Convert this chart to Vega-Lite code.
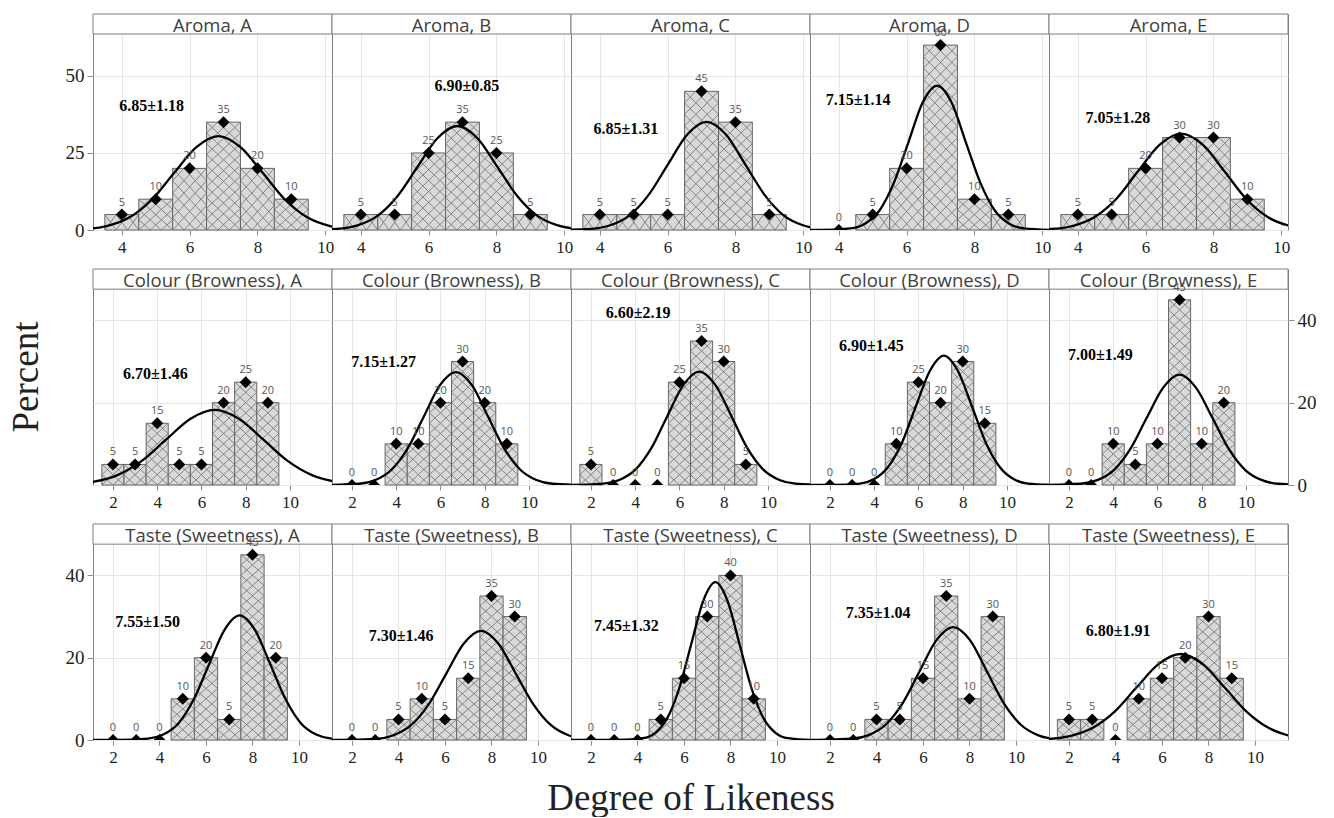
{
"$schema": "https://vega.github.io/schema/vega-lite/v6.json",
"background": "white",
"padding": {"left": 8, "top": 13, "right": 5, "bottom": 0},
"datasets": {"d": [
{"r":1,"s":"A","k":"h","t":"Aroma, A"},{"r":1,"s":"B","k":"h","t":"Aroma, B"},{"r":1,"s":"C","k":"h","t":"Aroma, C"},{"r":1,"s":"D","k":"h","t":"Aroma, D"},{"r":1,"s":"E","k":"h","t":"Aroma, E"},
{"r":2,"s":"A","k":"h","t":"Colour (Browness), A"},{"r":2,"s":"B","k":"h","t":"Colour (Browness), B"},{"r":2,"s":"C","k":"h","t":"Colour (Browness), C"},{"r":2,"s":"D","k":"h","t":"Colour (Browness), D"},{"r":2,"s":"E","k":"h","t":"Colour (Browness), E"},
{"r":3,"s":"A","k":"h","t":"Taste (Sweetness), A"},{"r":3,"s":"B","k":"h","t":"Taste (Sweetness), B"},{"r":3,"s":"C","k":"h","t":"Taste (Sweetness), C"},{"r":3,"s":"D","k":"h","t":"Taste (Sweetness), D"},{"r":3,"s":"E","k":"h","t":"Taste (Sweetness), E"},
{"r":1,"s":"A","k":"a","x":4.88,"y":40.2,"t":"6.85±1.18"},{"r":1,"s":"B","k":"a","x":7.13,"y":46.6,"t":"6.90±0.85"},{"r":1,"s":"C","k":"a","x":4.77,"y":32.9,"t":"6.85±1.31"},{"r":1,"s":"D","k":"a","x":4.57,"y":42.2,"t":"7.15±1.14"},{"r":1,"s":"E","k":"a","x":5.18,"y":36.2,"t":"7.05±1.28"},
{"r":2,"s":"A","k":"a","x":3.92,"y":26.9,"t":"6.70±1.46"},{"r":2,"s":"B","k":"a","x":3.43,"y":29.8,"t":"7.15±1.27"},{"r":2,"s":"C","k":"a","x":4.13,"y":41.9,"t":"6.60±2.19"},{"r":2,"s":"D","k":"a","x":3.87,"y":33.8,"t":"6.90±1.45"},{"r":2,"s":"E","k":"a","x":3.42,"y":31.6,"t":"7.00±1.49"},
{"r":3,"s":"A","k":"a","x":3.49,"y":28.7,"t":"7.55±1.50"},{"r":3,"s":"B","k":"a","x":4.11,"y":25.2,"t":"7.30±1.46"},{"r":3,"s":"C","k":"a","x":3.52,"y":27.8,"t":"7.45±1.32"},{"r":3,"s":"D","k":"a","x":4.07,"y":30.8,"t":"7.35±1.04"},{"r":3,"s":"E","k":"a","x":4.11,"y":26.6,"t":"6.80±1.91"},
{"r":1,"s":"A","k":"b","x":4,"y":5},{"r":1,"s":"A","k":"b","x":5,"y":10},{"r":1,"s":"A","k":"b","x":6,"y":20},{"r":1,"s":"A","k":"b","x":7,"y":35},{"r":1,"s":"A","k":"b","x":8,"y":20},{"r":1,"s":"A","k":"b","x":9,"y":10},
{"r":1,"s":"B","k":"b","x":4,"y":5},{"r":1,"s":"B","k":"b","x":5,"y":5},{"r":1,"s":"B","k":"b","x":6,"y":25},{"r":1,"s":"B","k":"b","x":7,"y":35},{"r":1,"s":"B","k":"b","x":8,"y":25},{"r":1,"s":"B","k":"b","x":9,"y":5},
{"r":1,"s":"C","k":"b","x":4,"y":5},{"r":1,"s":"C","k":"b","x":5,"y":5},{"r":1,"s":"C","k":"b","x":6,"y":5},{"r":1,"s":"C","k":"b","x":7,"y":45},{"r":1,"s":"C","k":"b","x":8,"y":35},{"r":1,"s":"C","k":"b","x":9,"y":5},
{"r":1,"s":"D","k":"b","x":4,"y":0},{"r":1,"s":"D","k":"b","x":5,"y":5},{"r":1,"s":"D","k":"b","x":6,"y":20},{"r":1,"s":"D","k":"b","x":7,"y":60},{"r":1,"s":"D","k":"b","x":8,"y":10},{"r":1,"s":"D","k":"b","x":9,"y":5},
{"r":1,"s":"E","k":"b","x":4,"y":5},{"r":1,"s":"E","k":"b","x":5,"y":5},{"r":1,"s":"E","k":"b","x":6,"y":20},{"r":1,"s":"E","k":"b","x":7,"y":30},{"r":1,"s":"E","k":"b","x":8,"y":30},{"r":1,"s":"E","k":"b","x":9,"y":10},
{"r":2,"s":"A","k":"b","x":2,"y":5},{"r":2,"s":"A","k":"b","x":3,"y":5},{"r":2,"s":"A","k":"b","x":4,"y":15},{"r":2,"s":"A","k":"b","x":5,"y":5},{"r":2,"s":"A","k":"b","x":6,"y":5},{"r":2,"s":"A","k":"b","x":7,"y":20},{"r":2,"s":"A","k":"b","x":8,"y":25},{"r":2,"s":"A","k":"b","x":9,"y":20},
{"r":2,"s":"B","k":"b","x":2,"y":0},{"r":2,"s":"B","k":"b","x":3,"y":0},{"r":2,"s":"B","k":"b","x":4,"y":10},{"r":2,"s":"B","k":"b","x":5,"y":10},{"r":2,"s":"B","k":"b","x":6,"y":20},{"r":2,"s":"B","k":"b","x":7,"y":30},{"r":2,"s":"B","k":"b","x":8,"y":20},{"r":2,"s":"B","k":"b","x":9,"y":10},
{"r":2,"s":"C","k":"b","x":2,"y":5},{"r":2,"s":"C","k":"b","x":3,"y":0},{"r":2,"s":"C","k":"b","x":4,"y":0},{"r":2,"s":"C","k":"b","x":5,"y":0},{"r":2,"s":"C","k":"b","x":6,"y":25},{"r":2,"s":"C","k":"b","x":7,"y":35},{"r":2,"s":"C","k":"b","x":8,"y":30},{"r":2,"s":"C","k":"b","x":9,"y":5},
{"r":2,"s":"D","k":"b","x":2,"y":0},{"r":2,"s":"D","k":"b","x":3,"y":0},{"r":2,"s":"D","k":"b","x":4,"y":0},{"r":2,"s":"D","k":"b","x":5,"y":10},{"r":2,"s":"D","k":"b","x":6,"y":25},{"r":2,"s":"D","k":"b","x":7,"y":20},{"r":2,"s":"D","k":"b","x":8,"y":30},{"r":2,"s":"D","k":"b","x":9,"y":15},
{"r":2,"s":"E","k":"b","x":2,"y":0},{"r":2,"s":"E","k":"b","x":3,"y":0},{"r":2,"s":"E","k":"b","x":4,"y":10},{"r":2,"s":"E","k":"b","x":5,"y":5},{"r":2,"s":"E","k":"b","x":6,"y":10},{"r":2,"s":"E","k":"b","x":7,"y":45},{"r":2,"s":"E","k":"b","x":8,"y":10},{"r":2,"s":"E","k":"b","x":9,"y":20},
{"r":3,"s":"A","k":"b","x":2,"y":0},{"r":3,"s":"A","k":"b","x":3,"y":0},{"r":3,"s":"A","k":"b","x":4,"y":0},{"r":3,"s":"A","k":"b","x":5,"y":10},{"r":3,"s":"A","k":"b","x":6,"y":20},{"r":3,"s":"A","k":"b","x":7,"y":5},{"r":3,"s":"A","k":"b","x":8,"y":45},{"r":3,"s":"A","k":"b","x":9,"y":20},
{"r":3,"s":"B","k":"b","x":2,"y":0},{"r":3,"s":"B","k":"b","x":3,"y":0},{"r":3,"s":"B","k":"b","x":4,"y":5},{"r":3,"s":"B","k":"b","x":5,"y":10},{"r":3,"s":"B","k":"b","x":6,"y":5},{"r":3,"s":"B","k":"b","x":7,"y":15},{"r":3,"s":"B","k":"b","x":8,"y":35},{"r":3,"s":"B","k":"b","x":9,"y":30},
{"r":3,"s":"C","k":"b","x":2,"y":0},{"r":3,"s":"C","k":"b","x":3,"y":0},{"r":3,"s":"C","k":"b","x":4,"y":0},{"r":3,"s":"C","k":"b","x":5,"y":5},{"r":3,"s":"C","k":"b","x":6,"y":15},{"r":3,"s":"C","k":"b","x":7,"y":30},{"r":3,"s":"C","k":"b","x":8,"y":40},{"r":3,"s":"C","k":"b","x":9,"y":10},
{"r":3,"s":"D","k":"b","x":2,"y":0},{"r":3,"s":"D","k":"b","x":3,"y":0},{"r":3,"s":"D","k":"b","x":4,"y":5},{"r":3,"s":"D","k":"b","x":5,"y":5},{"r":3,"s":"D","k":"b","x":6,"y":15},{"r":3,"s":"D","k":"b","x":7,"y":35},{"r":3,"s":"D","k":"b","x":8,"y":10},{"r":3,"s":"D","k":"b","x":9,"y":30},
{"r":3,"s":"E","k":"b","x":2,"y":5},{"r":3,"s":"E","k":"b","x":3,"y":5},{"r":3,"s":"E","k":"b","x":4,"y":0},{"r":3,"s":"E","k":"b","x":5,"y":10},{"r":3,"s":"E","k":"b","x":6,"y":15},{"r":3,"s":"E","k":"b","x":7,"y":20},{"r":3,"s":"E","k":"b","x":8,"y":30},{"r":3,"s":"E","k":"b","x":9,"y":15},
{"r":1,"s":"A","k":"c","x":1.61,"y":0.01},{"r":1,"s":"A","k":"c","x":2.92,"y":0.34},{"r":1,"s":"A","k":"c","x":3.58,"y":1.34},{"r":1,"s":"A","k":"c","x":4.23,"y":4.12},{"r":1,"s":"A","k":"c","x":4.89,"y":9.9},{"r":1,"s":"A","k":"c","x":5.54,"y":18.49},{"r":1,"s":"A","k":"c","x":6.2,"y":26.9},{"r":1,"s":"A","k":"c","x":6.85,"y":30.48},{"r":1,"s":"A","k":"c","x":7.5,"y":26.9},{"r":1,"s":"A","k":"c","x":8.16,"y":18.49},{"r":1,"s":"A","k":"c","x":8.81,"y":9.9},{"r":1,"s":"A","k":"c","x":9.47,"y":4.12},{"r":1,"s":"A","k":"c","x":10.12,"y":1.34},{"r":1,"s":"A","k":"c","x":10.78,"y":0.34},{"r":1,"s":"A","k":"c","x":12.09,"y":0.01},
{"r":1,"s":"B","k":"c","x":2.12,"y":0.01},{"r":1,"s":"B","k":"c","x":3.3,"y":0.37},{"r":1,"s":"B","k":"c","x":3.9,"y":1.48},{"r":1,"s":"B","k":"c","x":4.49,"y":4.57},{"r":1,"s":"B","k":"c","x":5.08,"y":10.96},{"r":1,"s":"B","k":"c","x":5.67,"y":20.47},{"r":1,"s":"B","k":"c","x":6.26,"y":29.78},{"r":1,"s":"B","k":"c","x":6.85,"y":33.75},{"r":1,"s":"B","k":"c","x":7.44,"y":29.78},{"r":1,"s":"B","k":"c","x":8.03,"y":20.47},{"r":1,"s":"B","k":"c","x":8.62,"y":10.96},{"r":1,"s":"B","k":"c","x":9.21,"y":4.57},{"r":1,"s":"B","k":"c","x":9.81,"y":1.48},{"r":1,"s":"B","k":"c","x":10.4,"y":0.37},{"r":1,"s":"B","k":"c","x":11.58,"y":0.01},
{"r":1,"s":"C","k":"c","x":2.6,"y":0.01},{"r":1,"s":"C","k":"c","x":3.74,"y":0.39},{"r":1,"s":"C","k":"c","x":4.31,"y":1.54},{"r":1,"s":"C","k":"c","x":4.88,"y":4.75},{"r":1,"s":"C","k":"c","x":5.44,"y":11.4},{"r":1,"s":"C","k":"c","x":6.01,"y":21.29},{"r":1,"s":"C","k":"c","x":6.58,"y":30.98},{"r":1,"s":"C","k":"c","x":7.15,"y":35.1},{"r":1,"s":"C","k":"c","x":7.72,"y":30.98},{"r":1,"s":"C","k":"c","x":8.29,"y":21.29},{"r":1,"s":"C","k":"c","x":8.86,"y":11.4},{"r":1,"s":"C","k":"c","x":9.42,"y":4.75},{"r":1,"s":"C","k":"c","x":9.99,"y":1.54},{"r":1,"s":"C","k":"c","x":10.56,"y":0.39},{"r":1,"s":"C","k":"c","x":11.7,"y":0.01},
{"r":1,"s":"D","k":"c","x":0,"y":0},{"r":1,"s":"D","k":"c","x":3.49,"y":0.02},{"r":1,"s":"D","k":"c","x":4.34,"y":0.52},{"r":1,"s":"D","k":"c","x":4.77,"y":2.05},{"r":1,"s":"D","k":"c","x":5.2,"y":6.33},{"r":1,"s":"D","k":"c","x":5.62,"y":15.2},{"r":1,"s":"D","k":"c","x":6.05,"y":28.39},{"r":1,"s":"D","k":"c","x":6.47,"y":41.31},{"r":1,"s":"D","k":"c","x":6.9,"y":46.81},{"r":1,"s":"D","k":"c","x":7.33,"y":41.31},{"r":1,"s":"D","k":"c","x":7.75,"y":28.39},{"r":1,"s":"D","k":"c","x":8.18,"y":15.2},{"r":1,"s":"D","k":"c","x":8.6,"y":6.33},{"r":1,"s":"D","k":"c","x":9.03,"y":2.05},{"r":1,"s":"D","k":"c","x":9.46,"y":0.52},{"r":1,"s":"D","k":"c","x":10.31,"y":0.02},
{"r":1,"s":"E","k":"c","x":1.95,"y":0.01},{"r":1,"s":"E","k":"c","x":3.22,"y":0.35},{"r":1,"s":"E","k":"c","x":3.86,"y":1.37},{"r":1,"s":"E","k":"c","x":4.5,"y":4.23},{"r":1,"s":"E","k":"c","x":5.14,"y":10.15},{"r":1,"s":"E","k":"c","x":5.77,"y":18.96},{"r":1,"s":"E","k":"c","x":6.41,"y":27.59},{"r":1,"s":"E","k":"c","x":7.05,"y":31.26},{"r":1,"s":"E","k":"c","x":7.69,"y":27.59},{"r":1,"s":"E","k":"c","x":8.33,"y":18.96},{"r":1,"s":"E","k":"c","x":8.96,"y":10.15},{"r":1,"s":"E","k":"c","x":9.6,"y":4.23},{"r":1,"s":"E","k":"c","x":10.24,"y":1.37},{"r":1,"s":"E","k":"c","x":10.88,"y":0.35},{"r":1,"s":"E","k":"c","x":12.15,"y":0.01},
{"r":2,"s":"A","k":"c","x":-2.14,"y":0.01},{"r":2,"s":"A","k":"c","x":0.04,"y":0.2},{"r":2,"s":"A","k":"c","x":1.14,"y":0.8},{"r":2,"s":"A","k":"c","x":2.23,"y":2.47},{"r":2,"s":"A","k":"c","x":3.32,"y":5.93},{"r":2,"s":"A","k":"c","x":4.41,"y":11.07},{"r":2,"s":"A","k":"c","x":5.51,"y":16.11},{"r":2,"s":"A","k":"c","x":6.6,"y":18.25},{"r":2,"s":"A","k":"c","x":7.69,"y":16.11},{"r":2,"s":"A","k":"c","x":8.79,"y":11.07},{"r":2,"s":"A","k":"c","x":9.88,"y":5.93},{"r":2,"s":"A","k":"c","x":10.97,"y":2.47},{"r":2,"s":"A","k":"c","x":12.07,"y":0.8},{"r":2,"s":"A","k":"c","x":13.16,"y":0.2},{"r":2,"s":"A","k":"c","x":15.34,"y":0.01},
{"r":2,"s":"B","k":"c","x":0.88,"y":0.01},{"r":2,"s":"B","k":"c","x":2.34,"y":0.3},{"r":2,"s":"B","k":"c","x":3.06,"y":1.2},{"r":2,"s":"B","k":"c","x":3.79,"y":3.71},{"r":2,"s":"B","k":"c","x":4.52,"y":8.91},{"r":2,"s":"B","k":"c","x":5.25,"y":16.64},{"r":2,"s":"B","k":"c","x":5.97,"y":24.21},{"r":2,"s":"B","k":"c","x":6.7,"y":27.43},{"r":2,"s":"B","k":"c","x":7.43,"y":24.21},{"r":2,"s":"B","k":"c","x":8.15,"y":16.64},{"r":2,"s":"B","k":"c","x":8.88,"y":8.91},{"r":2,"s":"B","k":"c","x":9.61,"y":3.71},{"r":2,"s":"B","k":"c","x":10.34,"y":1.2},{"r":2,"s":"B","k":"c","x":11.06,"y":0.3},{"r":2,"s":"B","k":"c","x":12.52,"y":0.01},
{"r":2,"s":"C","k":"c","x":0,"y":0},{"r":2,"s":"C","k":"c","x":1.11,"y":0.01},{"r":2,"s":"C","k":"c","x":2.56,"y":0.31},{"r":2,"s":"C","k":"c","x":3.28,"y":1.21},{"r":2,"s":"C","k":"c","x":4.01,"y":3.73},{"r":2,"s":"C","k":"c","x":4.73,"y":8.95},{"r":2,"s":"C","k":"c","x":5.45,"y":16.72},{"r":2,"s":"C","k":"c","x":6.18,"y":24.32},{"r":2,"s":"C","k":"c","x":6.9,"y":27.56},{"r":2,"s":"C","k":"c","x":7.62,"y":24.32},{"r":2,"s":"C","k":"c","x":8.35,"y":16.72},{"r":2,"s":"C","k":"c","x":9.07,"y":8.95},{"r":2,"s":"C","k":"c","x":9.79,"y":3.73},{"r":2,"s":"C","k":"c","x":10.52,"y":1.21},{"r":2,"s":"C","k":"c","x":11.24,"y":0.31},{"r":2,"s":"C","k":"c","x":12.69,"y":0.01},
{"r":2,"s":"D","k":"c","x":0,"y":0},{"r":2,"s":"D","k":"c","x":2.08,"y":0.01},{"r":2,"s":"D","k":"c","x":3.35,"y":0.35},{"r":2,"s":"D","k":"c","x":3.98,"y":1.38},{"r":2,"s":"D","k":"c","x":4.61,"y":4.26},{"r":2,"s":"D","k":"c","x":5.25,"y":10.22},{"r":2,"s":"D","k":"c","x":5.88,"y":19.08},{"r":2,"s":"D","k":"c","x":6.52,"y":27.76},{"r":2,"s":"D","k":"c","x":7.15,"y":31.46},{"r":2,"s":"D","k":"c","x":7.78,"y":27.76},{"r":2,"s":"D","k":"c","x":8.42,"y":19.08},{"r":2,"s":"D","k":"c","x":9.05,"y":10.22},{"r":2,"s":"D","k":"c","x":9.69,"y":4.26},{"r":2,"s":"D","k":"c","x":10.32,"y":1.38},{"r":2,"s":"D","k":"c","x":10.95,"y":0.35},{"r":2,"s":"D","k":"c","x":12.22,"y":0.01},
{"r":2,"s":"E","k":"c","x":1.05,"y":0.01},{"r":2,"s":"E","k":"c","x":2.54,"y":0.3},{"r":2,"s":"E","k":"c","x":3.28,"y":1.18},{"r":2,"s":"E","k":"c","x":4.03,"y":3.63},{"r":2,"s":"E","k":"c","x":4.77,"y":8.71},{"r":2,"s":"E","k":"c","x":5.51,"y":16.27},{"r":2,"s":"E","k":"c","x":6.26,"y":23.68},{"r":2,"s":"E","k":"c","x":7,"y":26.83},{"r":2,"s":"E","k":"c","x":7.74,"y":23.68},{"r":2,"s":"E","k":"c","x":8.49,"y":16.27},{"r":2,"s":"E","k":"c","x":9.23,"y":8.71},{"r":2,"s":"E","k":"c","x":9.97,"y":3.63},{"r":2,"s":"E","k":"c","x":10.72,"y":1.18},{"r":2,"s":"E","k":"c","x":11.46,"y":0.3},{"r":2,"s":"E","k":"c","x":12.95,"y":0.01},
{"r":3,"s":"A","k":"c","x":0,"y":0},{"r":3,"s":"A","k":"c","x":2.18,"y":0.01},{"r":3,"s":"A","k":"c","x":3.5,"y":0.34},{"r":3,"s":"A","k":"c","x":4.16,"y":1.33},{"r":3,"s":"A","k":"c","x":4.82,"y":4.1},{"r":3,"s":"A","k":"c","x":5.47,"y":9.84},{"r":3,"s":"A","k":"c","x":6.13,"y":18.37},{"r":3,"s":"A","k":"c","x":6.79,"y":26.73},{"r":3,"s":"A","k":"c","x":7.45,"y":30.29},{"r":3,"s":"A","k":"c","x":8.11,"y":26.73},{"r":3,"s":"A","k":"c","x":8.77,"y":18.37},{"r":3,"s":"A","k":"c","x":9.43,"y":9.84},{"r":3,"s":"A","k":"c","x":10.08,"y":4.1},{"r":3,"s":"A","k":"c","x":10.74,"y":1.33},{"r":3,"s":"A","k":"c","x":11.4,"y":0.34},{"r":3,"s":"A","k":"c","x":12.72,"y":0.01},
{"r":3,"s":"B","k":"c","x":0,"y":0},{"r":3,"s":"B","k":"c","x":1.54,"y":0.01},{"r":3,"s":"B","k":"c","x":3.04,"y":0.29},{"r":3,"s":"B","k":"c","x":3.79,"y":1.16},{"r":3,"s":"B","k":"c","x":4.54,"y":3.59},{"r":3,"s":"B","k":"c","x":5.29,"y":8.61},{"r":3,"s":"B","k":"c","x":6.05,"y":16.09},{"r":3,"s":"B","k":"c","x":6.8,"y":23.41},{"r":3,"s":"B","k":"c","x":7.55,"y":26.53},{"r":3,"s":"B","k":"c","x":8.3,"y":23.41},{"r":3,"s":"B","k":"c","x":9.05,"y":16.09},{"r":3,"s":"B","k":"c","x":9.81,"y":8.61},{"r":3,"s":"B","k":"c","x":10.56,"y":3.59},{"r":3,"s":"B","k":"c","x":11.31,"y":1.16},{"r":3,"s":"B","k":"c","x":12.06,"y":0.29},{"r":3,"s":"B","k":"c","x":13.56,"y":0.01},
{"r":3,"s":"C","k":"c","x":0,"y":0},{"r":3,"s":"C","k":"c","x":3.19,"y":0.01},{"r":3,"s":"C","k":"c","x":4.23,"y":0.43},{"r":3,"s":"C","k":"c","x":4.75,"y":1.68},{"r":3,"s":"C","k":"c","x":5.27,"y":5.19},{"r":3,"s":"C","k":"c","x":5.79,"y":12.46},{"r":3,"s":"C","k":"c","x":6.31,"y":23.27},{"r":3,"s":"C","k":"c","x":6.83,"y":33.85},{"r":3,"s":"C","k":"c","x":7.35,"y":38.36},{"r":3,"s":"C","k":"c","x":7.87,"y":33.85},{"r":3,"s":"C","k":"c","x":8.39,"y":23.27},{"r":3,"s":"C","k":"c","x":8.91,"y":12.46},{"r":3,"s":"C","k":"c","x":9.43,"y":5.19},{"r":3,"s":"C","k":"c","x":9.95,"y":1.68},{"r":3,"s":"C","k":"c","x":10.47,"y":0.43},{"r":3,"s":"C","k":"c","x":11.51,"y":0.01},{"r":3,"s":"C","k":"c","x":13,"y":0},
{"r":3,"s":"D","k":"c","x":0,"y":0},{"r":3,"s":"D","k":"c","x":1.48,"y":0.01},{"r":3,"s":"D","k":"c","x":2.94,"y":0.3},{"r":3,"s":"D","k":"c","x":3.66,"y":1.2},{"r":3,"s":"D","k":"c","x":4.39,"y":3.71},{"r":3,"s":"D","k":"c","x":5.12,"y":8.91},{"r":3,"s":"D","k":"c","x":5.85,"y":16.64},{"r":3,"s":"D","k":"c","x":6.57,"y":24.21},{"r":3,"s":"D","k":"c","x":7.3,"y":27.43},{"r":3,"s":"D","k":"c","x":8.03,"y":24.21},{"r":3,"s":"D","k":"c","x":8.75,"y":16.64},{"r":3,"s":"D","k":"c","x":9.48,"y":8.91},{"r":3,"s":"D","k":"c","x":10.21,"y":3.71},{"r":3,"s":"D","k":"c","x":10.94,"y":1.2},{"r":3,"s":"D","k":"c","x":11.66,"y":0.3},{"r":3,"s":"D","k":"c","x":13.12,"y":0.01},
{"r":3,"s":"E","k":"c","x":-0.83,"y":0.01},{"r":3,"s":"E","k":"c","x":1.07,"y":0.23},{"r":3,"s":"E","k":"c","x":2.03,"y":0.92},{"r":3,"s":"E","k":"c","x":2.98,"y":2.83},{"r":3,"s":"E","k":"c","x":3.94,"y":6.79},{"r":3,"s":"E","k":"c","x":4.89,"y":12.68},{"r":3,"s":"E","k":"c","x":5.85,"y":18.44},{"r":3,"s":"E","k":"c","x":6.8,"y":20.9},{"r":3,"s":"E","k":"c","x":7.75,"y":18.44},{"r":3,"s":"E","k":"c","x":8.71,"y":12.68},{"r":3,"s":"E","k":"c","x":9.66,"y":6.79},{"r":3,"s":"E","k":"c","x":10.62,"y":2.83},{"r":3,"s":"E","k":"c","x":11.57,"y":0.92},{"r":3,"s":"E","k":"c","x":12.53,"y":0.23},{"r":3,"s":"E","k":"c","x":14.43,"y":0.01}
]},
"data": {"name": "d"},
"spacing": 13,
"vconcat": [
{
"transform": [{"filter": "datum.r==1"}],
"facet": {"column": {"field": "s", "type": "nominal", "title": null, "header": {"labels": false}}},
"spacing": 0, "bounds": "flush",
"spec": {"width": 239, "height": 216, "layer": [
{"transform":[{"filter":"datum.k=='h'"}],"mark":{"type":"rect","fill":"white","stroke":"#7f7f7f","strokeWidth":1},
"encoding":{"x":{"datum":3.15,"type":"quantitative","title":null,"scale":{"domain":[3.15,10.2],"nice":false,"zero":false,"padding":0},"axis":{"values":[4,5,6,7,8,9,10],"tickSize":5,"labelFontSize":17,"labelPadding":4}},"x2":{"datum":10.2},
"y":{"datum":63.6,"type":"quantitative","title":null,"scale":{"domain":[0,70.1],"nice":false,"zero":false,"padding":0},"axis":{"values":[0,25,50],"tickSize":6,"labelFontSize":19,"labelPadding":3}},"y2":{"datum":70.1}}},
{"transform":[{"filter":"datum.k=='h'"}],"mark":{"type":"text","font":"Open Sans","fontSize":18.5,"color":"#404040","baseline":"alphabetic"},
"encoding":{"x":{"datum":6.675,"type":"quantitative","title":null},"y":{"datum":64.2,"type":"quantitative","title":null},"text":{"field":"t"}}},
{"transform":[{"filter":"datum.k=='b' && datum.y>0"}],"mark":{"type":"bar","orient":"vertical","size":33.9,"fill":"#d9d9d9","stroke":"#666666","strokeWidth":1},
"encoding":{"x":{"field":"x","type":"quantitative","title":null},"y":{"field":"y","type":"quantitative","title":null}}},
{"transform":[{"filter":"datum.k=='b' && datum.y>0"}],"mark":{"type":"point","filled":false,"size":4,"stroke":"#707070","strokeWidth":0.8,"opacity":1},
"encoding":{"x":{"field":"x","type":"quantitative","title":null},"y":{"datum":0,"type":"quantitative","title":null},"shape":{"field":"y","type":"nominal","legend":null,"scale":{"domain":[5,10,20,25,30,35,45,60],"range":[
"M-16.95,0l11.3,-15.41 11.3,15.41 11.3,-15.41m-33.9,0l11.3,15.41 11.3,-15.41 11.3,15.41m-33.9,-15.41",
"M-16.95,0l11.3,-10.27 11.3,10.27 11.3,-10.27m-33.9,0l11.3,10.27 11.3,-10.27 11.3,10.27m-33.9,-10.27l11.3,-10.27 11.3,10.27 11.3,-10.27m-33.9,0l11.3,10.27 11.3,-10.27 11.3,10.27m-33.9,-10.27l11.3,-10.27 11.3,10.27 11.3,-10.27m-33.9,0l11.3,10.27 11.3,-10.27 11.3,10.27m-33.9,-10.27",
"M-16.95,0l11.3,-12.33 11.3,12.33 11.3,-12.33m-33.9,0l11.3,12.33 11.3,-12.33 11.3,12.33m-33.9,-12.33l11.3,-12.33 11.3,12.33 11.3,-12.33m-33.9,0l11.3,12.33 11.3,-12.33 11.3,12.33m-33.9,-12.33l11.3,-12.33 11.3,12.33 11.3,-12.33m-33.9,0l11.3,12.33 11.3,-12.33 11.3,12.33m-33.9,-12.33l11.3,-12.33 11.3,12.33 11.3,-12.33m-33.9,0l11.3,12.33 11.3,-12.33 11.3,12.33m-33.9,-12.33l11.3,-12.33 11.3,12.33 11.3,-12.33m-33.9,0l11.3,12.33 11.3,-12.33 11.3,12.33m-33.9,-12.33",
"M-16.95,0l11.3,-11 11.3,11 11.3,-11m-33.9,0l11.3,11 11.3,-11 11.3,11m-33.9,-11l11.3,-11 11.3,11 11.3,-11m-33.9,0l11.3,11 11.3,-11 11.3,11m-33.9,-11l11.3,-11 11.3,11 11.3,-11m-33.9,0l11.3,11 11.3,-11 11.3,11m-33.9,-11l11.3,-11 11.3,11 11.3,-11m-33.9,0l11.3,11 11.3,-11 11.3,11m-33.9,-11l11.3,-11 11.3,11 11.3,-11m-33.9,0l11.3,11 11.3,-11 11.3,11m-33.9,-11l11.3,-11 11.3,11 11.3,-11m-33.9,0l11.3,11 11.3,-11 11.3,11m-33.9,-11l11.3,-11 11.3,11 11.3,-11m-33.9,0l11.3,11 11.3,-11 11.3,11m-33.9,-11",
"M-16.95,0l11.3,-11.56 11.3,11.56 11.3,-11.56m-33.9,0l11.3,11.56 11.3,-11.56 11.3,11.56m-33.9,-11.56l11.3,-11.56 11.3,11.56 11.3,-11.56m-33.9,0l11.3,11.56 11.3,-11.56 11.3,11.56m-33.9,-11.56l11.3,-11.56 11.3,11.56 11.3,-11.56m-33.9,0l11.3,11.56 11.3,-11.56 11.3,11.56m-33.9,-11.56l11.3,-11.56 11.3,11.56 11.3,-11.56m-33.9,0l11.3,11.56 11.3,-11.56 11.3,11.56m-33.9,-11.56l11.3,-11.56 11.3,11.56 11.3,-11.56m-33.9,0l11.3,11.56 11.3,-11.56 11.3,11.56m-33.9,-11.56l11.3,-11.56 11.3,11.56 11.3,-11.56m-33.9,0l11.3,11.56 11.3,-11.56 11.3,11.56m-33.9,-11.56l11.3,-11.56 11.3,11.56 11.3,-11.56m-33.9,0l11.3,11.56 11.3,-11.56 11.3,11.56m-33.9,-11.56l11.3,-11.56 11.3,11.56 11.3,-11.56m-33.9,0l11.3,11.56 11.3,-11.56 11.3,11.56m-33.9,-11.56",
"M-16.95,0l11.3,-10.79 11.3,10.79 11.3,-10.79m-33.9,0l11.3,10.79 11.3,-10.79 11.3,10.79m-33.9,-10.79l11.3,-10.79 11.3,10.79 11.3,-10.79m-33.9,0l11.3,10.79 11.3,-10.79 11.3,10.79m-33.9,-10.79l11.3,-10.79 11.3,10.79 11.3,-10.79m-33.9,0l11.3,10.79 11.3,-10.79 11.3,10.79m-33.9,-10.79l11.3,-10.79 11.3,10.79 11.3,-10.79m-33.9,0l11.3,10.79 11.3,-10.79 11.3,10.79m-33.9,-10.79l11.3,-10.79 11.3,10.79 11.3,-10.79m-33.9,0l11.3,10.79 11.3,-10.79 11.3,10.79m-33.9,-10.79l11.3,-10.79 11.3,10.79 11.3,-10.79m-33.9,0l11.3,10.79 11.3,-10.79 11.3,10.79m-33.9,-10.79l11.3,-10.79 11.3,10.79 11.3,-10.79m-33.9,0l11.3,10.79 11.3,-10.79 11.3,10.79m-33.9,-10.79l11.3,-10.79 11.3,10.79 11.3,-10.79m-33.9,0l11.3,10.79 11.3,-10.79 11.3,10.79m-33.9,-10.79l11.3,-10.79 11.3,10.79 11.3,-10.79m-33.9,0l11.3,10.79 11.3,-10.79 11.3,10.79m-33.9,-10.79l11.3,-10.79 11.3,10.79 11.3,-10.79m-33.9,0l11.3,10.79 11.3,-10.79 11.3,10.79m-33.9,-10.79",
"M-16.95,0l11.3,-11.56 11.3,11.56 11.3,-11.56m-33.9,0l11.3,11.56 11.3,-11.56 11.3,11.56m-33.9,-11.56l11.3,-11.56 11.3,11.56 11.3,-11.56m-33.9,0l11.3,11.56 11.3,-11.56 11.3,11.56m-33.9,-11.56l11.3,-11.56 11.3,11.56 11.3,-11.56m-33.9,0l11.3,11.56 11.3,-11.56 11.3,11.56m-33.9,-11.56l11.3,-11.56 11.3,11.56 11.3,-11.56m-33.9,0l11.3,11.56 11.3,-11.56 11.3,11.56m-33.9,-11.56l11.3,-11.56 11.3,11.56 11.3,-11.56m-33.9,0l11.3,11.56 11.3,-11.56 11.3,11.56m-33.9,-11.56l11.3,-11.56 11.3,11.56 11.3,-11.56m-33.9,0l11.3,11.56 11.3,-11.56 11.3,11.56m-33.9,-11.56l11.3,-11.56 11.3,11.56 11.3,-11.56m-33.9,0l11.3,11.56 11.3,-11.56 11.3,11.56m-33.9,-11.56l11.3,-11.56 11.3,11.56 11.3,-11.56m-33.9,0l11.3,11.56 11.3,-11.56 11.3,11.56m-33.9,-11.56l11.3,-11.56 11.3,11.56 11.3,-11.56m-33.9,0l11.3,11.56 11.3,-11.56 11.3,11.56m-33.9,-11.56l11.3,-11.56 11.3,11.56 11.3,-11.56m-33.9,0l11.3,11.56 11.3,-11.56 11.3,11.56m-33.9,-11.56l11.3,-11.56 11.3,11.56 11.3,-11.56m-33.9,0l11.3,11.56 11.3,-11.56 11.3,11.56m-33.9,-11.56l11.3,-11.56 11.3,11.56 11.3,-11.56m-33.9,0l11.3,11.56 11.3,-11.56 11.3,11.56m-33.9,-11.56",
"M-16.95,0l11.3,-11.56 11.3,11.56 11.3,-11.56m-33.9,0l11.3,11.56 11.3,-11.56 11.3,11.56m-33.9,-11.56l11.3,-11.56 11.3,11.56 11.3,-11.56m-33.9,0l11.3,11.56 11.3,-11.56 11.3,11.56m-33.9,-11.56l11.3,-11.56 11.3,11.56 11.3,-11.56m-33.9,0l11.3,11.56 11.3,-11.56 11.3,11.56m-33.9,-11.56l11.3,-11.56 11.3,11.56 11.3,-11.56m-33.9,0l11.3,11.56 11.3,-11.56 11.3,11.56m-33.9,-11.56l11.3,-11.56 11.3,11.56 11.3,-11.56m-33.9,0l11.3,11.56 11.3,-11.56 11.3,11.56m-33.9,-11.56l11.3,-11.56 11.3,11.56 11.3,-11.56m-33.9,0l11.3,11.56 11.3,-11.56 11.3,11.56m-33.9,-11.56l11.3,-11.56 11.3,11.56 11.3,-11.56m-33.9,0l11.3,11.56 11.3,-11.56 11.3,11.56m-33.9,-11.56l11.3,-11.56 11.3,11.56 11.3,-11.56m-33.9,0l11.3,11.56 11.3,-11.56 11.3,11.56m-33.9,-11.56l11.3,-11.56 11.3,11.56 11.3,-11.56m-33.9,0l11.3,11.56 11.3,-11.56 11.3,11.56m-33.9,-11.56l11.3,-11.56 11.3,11.56 11.3,-11.56m-33.9,0l11.3,11.56 11.3,-11.56 11.3,11.56m-33.9,-11.56l11.3,-11.56 11.3,11.56 11.3,-11.56m-33.9,0l11.3,11.56 11.3,-11.56 11.3,11.56m-33.9,-11.56l11.3,-11.56 11.3,11.56 11.3,-11.56m-33.9,0l11.3,11.56 11.3,-11.56 11.3,11.56m-33.9,-11.56l11.3,-11.56 11.3,11.56 11.3,-11.56m-33.9,0l11.3,11.56 11.3,-11.56 11.3,11.56m-33.9,-11.56l11.3,-11.56 11.3,11.56 11.3,-11.56m-33.9,0l11.3,11.56 11.3,-11.56 11.3,11.56m-33.9,-11.56l11.3,-11.56 11.3,11.56 11.3,-11.56m-33.9,0l11.3,11.56 11.3,-11.56 11.3,11.56m-33.9,-11.56l11.3,-11.56 11.3,11.56 11.3,-11.56m-33.9,0l11.3,11.56 11.3,-11.56 11.3,11.56m-33.9,-11.56"
]}}}},
{"transform":[{"filter":"datum.k=='c'"}],"mark":{"type":"line","interpolate":"monotone","color":"black","strokeWidth":2.3,"clip":true},
"encoding":{"x":{"field":"x","type":"quantitative","title":null},"y":{"field":"y","type":"quantitative","title":null}}},
{"transform":[{"filter":"datum.k=='b'"}],"mark":{"type":"point","shape":"diamond","filled":true,"color":"black","size":144,"opacity":1,"clip":true},
"encoding":{"x":{"field":"x","type":"quantitative","title":null},"y":{"field":"y","type":"quantitative","title":null}}},
{"transform":[{"filter":"datum.k=='b'"}],"mark":{"type":"text","font":"Open Sans","fontSize":11,"fill":"#555555","dy":-9,"baseline":"alphabetic"},
"encoding":{"x":{"field":"x","type":"quantitative","title":null},"y":{"field":"y","type":"quantitative","title":null},"text":{"field":"y","type":"quantitative"}}},
{"transform":[{"filter":"datum.k=='a'"}],"mark":{"type":"text","font":"Liberation Serif","fontSize":16,"fontWeight":"bold","color":"black"},
"encoding":{"x":{"field":"x","type":"quantitative","title":null},"y":{"field":"y","type":"quantitative","title":null},"text":{"field":"t"}}}
]}
},
{
"transform": [{"filter": "datum.r==2"}],
"facet": {
"row": {"field": "r", "type": "nominal", "title": null, "header": {"labelExpr": "'Percent'", "labelOrient": "left", "labelAngle": -90, "labelFont": "Liberation Serif", "labelFontSize": 37, "labelColor": "#222222", "labelPadding": 29}},
"column": {"field": "s", "type": "nominal", "title": null, "header": {"labels": false}}},
"spacing": 0, "bounds": "flush",
"spec": {"width": 239, "height": 216, "layer": [
{"transform":[{"filter":"datum.k=='h'"}],"mark":{"type":"rect","fill":"white","stroke":"#7f7f7f","strokeWidth":1},
"encoding":{"x":{"datum":1.1,"type":"quantitative","title":null,"scale":{"domain":[1.1,11.9],"nice":false,"zero":false,"padding":0},"axis":{"values":[2,4,6,8,10],"tickSize":5,"labelFontSize":17,"labelPadding":4}},"x2":{"datum":11.9},
"y":{"datum":47.6,"type":"quantitative","title":null,"scale":{"domain":[0,52.5],"nice":false,"zero":false,"padding":0},"axis":{"orient":"right","values":[0,20,40],"tickSize":6,"labelFontSize":19,"labelPadding":3}},"y2":{"datum":52.5}}},
{"transform":[{"filter":"datum.k=='h'"}],"mark":{"type":"text","font":"Open Sans","fontSize":18.5,"color":"#404040","baseline":"alphabetic"},
"encoding":{"x":{"datum":6.5,"type":"quantitative","title":null},"y":{"datum":48.1,"type":"quantitative","title":null},"text":{"field":"t"}}},
{"transform":[{"filter":"datum.k=='b' && datum.y>0"}],"mark":{"type":"bar","orient":"vertical","size":22.13,"fill":"#d9d9d9","stroke":"#666666","strokeWidth":1},
"encoding":{"x":{"field":"x","type":"quantitative","title":null},"y":{"field":"y","type":"quantitative","title":null}}},
{"transform":[{"filter":"datum.k=='b' && datum.y>0"}],"mark":{"type":"point","filled":false,"size":4,"stroke":"#707070","strokeWidth":0.8,"opacity":1},
"encoding":{"x":{"field":"x","type":"quantitative","title":null},"y":{"datum":0,"type":"quantitative","title":null},"shape":{"field":"y","type":"nominal","legend":null,"scale":{"domain":[5,10,15,20,25,30,35,45],"range":[
"M-11,0l11,-10.3 11,10.3m-22,-10.3l11,10.3 11,-10.3m-22,0l11,-10.3 11,10.3m-22,-10.3l11,10.3 11,-10.3m-22,0",
"M-11,0l11,-10.3 11,10.3m-22,-10.3l11,10.3 11,-10.3m-22,0l11,-10.3 11,10.3m-22,-10.3l11,10.3 11,-10.3m-22,0l11,-10.3 11,10.3m-22,-10.3l11,10.3 11,-10.3m-22,0l11,-10.3 11,10.3m-22,-10.3l11,10.3 11,-10.3m-22,0",
"M-11,0l11,-10.3 11,10.3m-22,-10.3l11,10.3 11,-10.3m-22,0l11,-10.3 11,10.3m-22,-10.3l11,10.3 11,-10.3m-22,0l11,-10.3 11,10.3m-22,-10.3l11,10.3 11,-10.3m-22,0l11,-10.3 11,10.3m-22,-10.3l11,10.3 11,-10.3m-22,0l11,-10.3 11,10.3m-22,-10.3l11,10.3 11,-10.3m-22,0l11,-10.3 11,10.3m-22,-10.3l11,10.3 11,-10.3m-22,0",
"M-11,0l11,-10.3 11,10.3m-22,-10.3l11,10.3 11,-10.3m-22,0l11,-10.3 11,10.3m-22,-10.3l11,10.3 11,-10.3m-22,0l11,-10.3 11,10.3m-22,-10.3l11,10.3 11,-10.3m-22,0l11,-10.3 11,10.3m-22,-10.3l11,10.3 11,-10.3m-22,0l11,-10.3 11,10.3m-22,-10.3l11,10.3 11,-10.3m-22,0l11,-10.3 11,10.3m-22,-10.3l11,10.3 11,-10.3m-22,0l11,-10.3 11,10.3m-22,-10.3l11,10.3 11,-10.3m-22,0l11,-10.3 11,10.3m-22,-10.3l11,10.3 11,-10.3m-22,0",
"M-11,0l11,-10.3 11,10.3m-22,-10.3l11,10.3 11,-10.3m-22,0l11,-10.3 11,10.3m-22,-10.3l11,10.3 11,-10.3m-22,0l11,-10.3 11,10.3m-22,-10.3l11,10.3 11,-10.3m-22,0l11,-10.3 11,10.3m-22,-10.3l11,10.3 11,-10.3m-22,0l11,-10.3 11,10.3m-22,-10.3l11,10.3 11,-10.3m-22,0l11,-10.3 11,10.3m-22,-10.3l11,10.3 11,-10.3m-22,0l11,-10.3 11,10.3m-22,-10.3l11,10.3 11,-10.3m-22,0l11,-10.3 11,10.3m-22,-10.3l11,10.3 11,-10.3m-22,0l11,-10.3 11,10.3m-22,-10.3l11,10.3 11,-10.3m-22,0l11,-10.3 11,10.3m-22,-10.3l11,10.3 11,-10.3m-22,0",
"M-11,0l11,-10.3 11,10.3m-22,-10.3l11,10.3 11,-10.3m-22,0l11,-10.3 11,10.3m-22,-10.3l11,10.3 11,-10.3m-22,0l11,-10.3 11,10.3m-22,-10.3l11,10.3 11,-10.3m-22,0l11,-10.3 11,10.3m-22,-10.3l11,10.3 11,-10.3m-22,0l11,-10.3 11,10.3m-22,-10.3l11,10.3 11,-10.3m-22,0l11,-10.3 11,10.3m-22,-10.3l11,10.3 11,-10.3m-22,0l11,-10.3 11,10.3m-22,-10.3l11,10.3 11,-10.3m-22,0l11,-10.3 11,10.3m-22,-10.3l11,10.3 11,-10.3m-22,0l11,-10.3 11,10.3m-22,-10.3l11,10.3 11,-10.3m-22,0l11,-10.3 11,10.3m-22,-10.3l11,10.3 11,-10.3m-22,0l11,-10.3 11,10.3m-22,-10.3l11,10.3 11,-10.3m-22,0l11,-10.3 11,10.3m-22,-10.3l11,10.3 11,-10.3m-22,0",
"M-11,0l11,-10.3 11,10.3m-22,-10.3l11,10.3 11,-10.3m-22,0l11,-10.3 11,10.3m-22,-10.3l11,10.3 11,-10.3m-22,0l11,-10.3 11,10.3m-22,-10.3l11,10.3 11,-10.3m-22,0l11,-10.3 11,10.3m-22,-10.3l11,10.3 11,-10.3m-22,0l11,-10.3 11,10.3m-22,-10.3l11,10.3 11,-10.3m-22,0l11,-10.3 11,10.3m-22,-10.3l11,10.3 11,-10.3m-22,0l11,-10.3 11,10.3m-22,-10.3l11,10.3 11,-10.3m-22,0l11,-10.3 11,10.3m-22,-10.3l11,10.3 11,-10.3m-22,0l11,-10.3 11,10.3m-22,-10.3l11,10.3 11,-10.3m-22,0l11,-10.3 11,10.3m-22,-10.3l11,10.3 11,-10.3m-22,0l11,-10.3 11,10.3m-22,-10.3l11,10.3 11,-10.3m-22,0l11,-10.3 11,10.3m-22,-10.3l11,10.3 11,-10.3m-22,0l11,-10.3 11,10.3m-22,-10.3l11,10.3 11,-10.3m-22,0l11,-10.3 11,10.3m-22,-10.3l11,10.3 11,-10.3m-22,0",
"M-11,0l11,-10.3 11,10.3m-22,-10.3l11,10.3 11,-10.3m-22,0l11,-10.3 11,10.3m-22,-10.3l11,10.3 11,-10.3m-22,0l11,-10.3 11,10.3m-22,-10.3l11,10.3 11,-10.3m-22,0l11,-10.3 11,10.3m-22,-10.3l11,10.3 11,-10.3m-22,0l11,-10.3 11,10.3m-22,-10.3l11,10.3 11,-10.3m-22,0l11,-10.3 11,10.3m-22,-10.3l11,10.3 11,-10.3m-22,0l11,-10.3 11,10.3m-22,-10.3l11,10.3 11,-10.3m-22,0l11,-10.3 11,10.3m-22,-10.3l11,10.3 11,-10.3m-22,0l11,-10.3 11,10.3m-22,-10.3l11,10.3 11,-10.3m-22,0l11,-10.3 11,10.3m-22,-10.3l11,10.3 11,-10.3m-22,0l11,-10.3 11,10.3m-22,-10.3l11,10.3 11,-10.3m-22,0l11,-10.3 11,10.3m-22,-10.3l11,10.3 11,-10.3m-22,0l11,-10.3 11,10.3m-22,-10.3l11,10.3 11,-10.3m-22,0l11,-10.3 11,10.3m-22,-10.3l11,10.3 11,-10.3m-22,0l11,-10.3 11,10.3m-22,-10.3l11,10.3 11,-10.3m-22,0l11,-10.3 11,10.3m-22,-10.3l11,10.3 11,-10.3m-22,0l11,-10.3 11,10.3m-22,-10.3l11,10.3 11,-10.3m-22,0l11,-10.3 11,10.3m-22,-10.3l11,10.3 11,-10.3m-22,0"
]}}}},
{"transform":[{"filter":"datum.k=='c'"}],"mark":{"type":"line","interpolate":"monotone","color":"black","strokeWidth":2.3,"clip":true},
"encoding":{"x":{"field":"x","type":"quantitative","title":null},"y":{"field":"y","type":"quantitative","title":null}}},
{"transform":[{"filter":"datum.k=='b'"}],"mark":{"type":"point","shape":"diamond","filled":true,"color":"black","size":144,"opacity":1,"clip":true},
"encoding":{"x":{"field":"x","type":"quantitative","title":null},"y":{"field":"y","type":"quantitative","title":null}}},
{"transform":[{"filter":"datum.k=='b'"}],"mark":{"type":"text","font":"Open Sans","fontSize":11,"fill":"#555555","dy":-9,"baseline":"alphabetic"},
"encoding":{"x":{"field":"x","type":"quantitative","title":null},"y":{"field":"y","type":"quantitative","title":null},"text":{"field":"y","type":"quantitative"}}},
{"transform":[{"filter":"datum.k=='a'"}],"mark":{"type":"text","font":"Liberation Serif","fontSize":16,"fontWeight":"bold","color":"black"},
"encoding":{"x":{"field":"x","type":"quantitative","title":null},"y":{"field":"y","type":"quantitative","title":null},"text":{"field":"t"}}}
]}
},
{
"transform": [{"filter": "datum.r==3"}],
"facet": {"column": {"field": "s", "type": "nominal", "title": "Degree of Likeness", "header": {"labels": false, "titleOrient": "bottom", "titleFont": "Liberation Serif", "titleFontSize": 37, "titleFontWeight": "normal", "titleColor": "#222222", "titlePadding": 6}}},
"spacing": 0, "bounds": "flush",
"spec": {"width": 239, "height": 216, "layer": [
{"transform":[{"filter":"datum.k=='h'"}],"mark":{"type":"rect","fill":"white","stroke":"#7f7f7f","strokeWidth":1},
"encoding":{"x":{"datum":1.14,"type":"quantitative","title":null,"scale":{"domain":[1.14,11.42],"nice":false,"zero":false,"padding":0},"axis":{"values":[2,4,6,8,10],"tickSize":5,"labelFontSize":17,"labelPadding":4}},"x2":{"datum":11.42},
"y":{"datum":47.6,"type":"quantitative","title":null,"scale":{"domain":[0,52.5],"nice":false,"zero":false,"padding":0},"axis":{"values":[0,20,40],"tickSize":6,"labelFontSize":19,"labelPadding":3}},"y2":{"datum":52.5}}},
{"transform":[{"filter":"datum.k=='h'"}],"mark":{"type":"text","font":"Open Sans","fontSize":18.5,"color":"#404040","baseline":"alphabetic"},
"encoding":{"x":{"datum":6.28,"type":"quantitative","title":null},"y":{"datum":48.1,"type":"quantitative","title":null},"text":{"field":"t"}}},
{"transform":[{"filter":"datum.k=='b' && datum.y>0"}],"mark":{"type":"bar","orient":"vertical","size":23.25,"fill":"#d9d9d9","stroke":"#666666","strokeWidth":1},
"encoding":{"x":{"field":"x","type":"quantitative","title":null},"y":{"field":"y","type":"quantitative","title":null}}},
{"transform":[{"filter":"datum.k=='b' && datum.y>0"}],"mark":{"type":"point","filled":false,"size":4,"stroke":"#707070","strokeWidth":0.8,"opacity":1},
"encoding":{"x":{"field":"x","type":"quantitative","title":null},"y":{"datum":0,"type":"quantitative","title":null},"shape":{"field":"y","type":"nominal","legend":null,"scale":{"domain":[5,10,15,20,30,35,40,45],"range":[
"M-11.6,0l11.6,-10.3 11.6,10.3m-23.2,-10.3l11.6,10.3 11.6,-10.3m-23.2,0l11.6,-10.3 11.6,10.3m-23.2,-10.3l11.6,10.3 11.6,-10.3m-23.2,0",
"M-11.6,0l11.6,-10.3 11.6,10.3m-23.2,-10.3l11.6,10.3 11.6,-10.3m-23.2,0l11.6,-10.3 11.6,10.3m-23.2,-10.3l11.6,10.3 11.6,-10.3m-23.2,0l11.6,-10.3 11.6,10.3m-23.2,-10.3l11.6,10.3 11.6,-10.3m-23.2,0l11.6,-10.3 11.6,10.3m-23.2,-10.3l11.6,10.3 11.6,-10.3m-23.2,0",
"M-11.6,0l11.6,-10.3 11.6,10.3m-23.2,-10.3l11.6,10.3 11.6,-10.3m-23.2,0l11.6,-10.3 11.6,10.3m-23.2,-10.3l11.6,10.3 11.6,-10.3m-23.2,0l11.6,-10.3 11.6,10.3m-23.2,-10.3l11.6,10.3 11.6,-10.3m-23.2,0l11.6,-10.3 11.6,10.3m-23.2,-10.3l11.6,10.3 11.6,-10.3m-23.2,0l11.6,-10.3 11.6,10.3m-23.2,-10.3l11.6,10.3 11.6,-10.3m-23.2,0l11.6,-10.3 11.6,10.3m-23.2,-10.3l11.6,10.3 11.6,-10.3m-23.2,0",
"M-11.6,0l11.6,-10.3 11.6,10.3m-23.2,-10.3l11.6,10.3 11.6,-10.3m-23.2,0l11.6,-10.3 11.6,10.3m-23.2,-10.3l11.6,10.3 11.6,-10.3m-23.2,0l11.6,-10.3 11.6,10.3m-23.2,-10.3l11.6,10.3 11.6,-10.3m-23.2,0l11.6,-10.3 11.6,10.3m-23.2,-10.3l11.6,10.3 11.6,-10.3m-23.2,0l11.6,-10.3 11.6,10.3m-23.2,-10.3l11.6,10.3 11.6,-10.3m-23.2,0l11.6,-10.3 11.6,10.3m-23.2,-10.3l11.6,10.3 11.6,-10.3m-23.2,0l11.6,-10.3 11.6,10.3m-23.2,-10.3l11.6,10.3 11.6,-10.3m-23.2,0l11.6,-10.3 11.6,10.3m-23.2,-10.3l11.6,10.3 11.6,-10.3m-23.2,0",
"M-11.6,0l11.6,-10.3 11.6,10.3m-23.2,-10.3l11.6,10.3 11.6,-10.3m-23.2,0l11.6,-10.3 11.6,10.3m-23.2,-10.3l11.6,10.3 11.6,-10.3m-23.2,0l11.6,-10.3 11.6,10.3m-23.2,-10.3l11.6,10.3 11.6,-10.3m-23.2,0l11.6,-10.3 11.6,10.3m-23.2,-10.3l11.6,10.3 11.6,-10.3m-23.2,0l11.6,-10.3 11.6,10.3m-23.2,-10.3l11.6,10.3 11.6,-10.3m-23.2,0l11.6,-10.3 11.6,10.3m-23.2,-10.3l11.6,10.3 11.6,-10.3m-23.2,0l11.6,-10.3 11.6,10.3m-23.2,-10.3l11.6,10.3 11.6,-10.3m-23.2,0l11.6,-10.3 11.6,10.3m-23.2,-10.3l11.6,10.3 11.6,-10.3m-23.2,0l11.6,-10.3 11.6,10.3m-23.2,-10.3l11.6,10.3 11.6,-10.3m-23.2,0l11.6,-10.3 11.6,10.3m-23.2,-10.3l11.6,10.3 11.6,-10.3m-23.2,0l11.6,-10.3 11.6,10.3m-23.2,-10.3l11.6,10.3 11.6,-10.3m-23.2,0l11.6,-10.3 11.6,10.3m-23.2,-10.3l11.6,10.3 11.6,-10.3m-23.2,0",
"M-11.6,0l11.6,-10.3 11.6,10.3m-23.2,-10.3l11.6,10.3 11.6,-10.3m-23.2,0l11.6,-10.3 11.6,10.3m-23.2,-10.3l11.6,10.3 11.6,-10.3m-23.2,0l11.6,-10.3 11.6,10.3m-23.2,-10.3l11.6,10.3 11.6,-10.3m-23.2,0l11.6,-10.3 11.6,10.3m-23.2,-10.3l11.6,10.3 11.6,-10.3m-23.2,0l11.6,-10.3 11.6,10.3m-23.2,-10.3l11.6,10.3 11.6,-10.3m-23.2,0l11.6,-10.3 11.6,10.3m-23.2,-10.3l11.6,10.3 11.6,-10.3m-23.2,0l11.6,-10.3 11.6,10.3m-23.2,-10.3l11.6,10.3 11.6,-10.3m-23.2,0l11.6,-10.3 11.6,10.3m-23.2,-10.3l11.6,10.3 11.6,-10.3m-23.2,0l11.6,-10.3 11.6,10.3m-23.2,-10.3l11.6,10.3 11.6,-10.3m-23.2,0l11.6,-10.3 11.6,10.3m-23.2,-10.3l11.6,10.3 11.6,-10.3m-23.2,0l11.6,-10.3 11.6,10.3m-23.2,-10.3l11.6,10.3 11.6,-10.3m-23.2,0l11.6,-10.3 11.6,10.3m-23.2,-10.3l11.6,10.3 11.6,-10.3m-23.2,0l11.6,-10.3 11.6,10.3m-23.2,-10.3l11.6,10.3 11.6,-10.3m-23.2,0l11.6,-10.3 11.6,10.3m-23.2,-10.3l11.6,10.3 11.6,-10.3m-23.2,0",
"M-11.6,0l11.6,-10.3 11.6,10.3m-23.2,-10.3l11.6,10.3 11.6,-10.3m-23.2,0l11.6,-10.3 11.6,10.3m-23.2,-10.3l11.6,10.3 11.6,-10.3m-23.2,0l11.6,-10.3 11.6,10.3m-23.2,-10.3l11.6,10.3 11.6,-10.3m-23.2,0l11.6,-10.3 11.6,10.3m-23.2,-10.3l11.6,10.3 11.6,-10.3m-23.2,0l11.6,-10.3 11.6,10.3m-23.2,-10.3l11.6,10.3 11.6,-10.3m-23.2,0l11.6,-10.3 11.6,10.3m-23.2,-10.3l11.6,10.3 11.6,-10.3m-23.2,0l11.6,-10.3 11.6,10.3m-23.2,-10.3l11.6,10.3 11.6,-10.3m-23.2,0l11.6,-10.3 11.6,10.3m-23.2,-10.3l11.6,10.3 11.6,-10.3m-23.2,0l11.6,-10.3 11.6,10.3m-23.2,-10.3l11.6,10.3 11.6,-10.3m-23.2,0l11.6,-10.3 11.6,10.3m-23.2,-10.3l11.6,10.3 11.6,-10.3m-23.2,0l11.6,-10.3 11.6,10.3m-23.2,-10.3l11.6,10.3 11.6,-10.3m-23.2,0l11.6,-10.3 11.6,10.3m-23.2,-10.3l11.6,10.3 11.6,-10.3m-23.2,0l11.6,-10.3 11.6,10.3m-23.2,-10.3l11.6,10.3 11.6,-10.3m-23.2,0l11.6,-10.3 11.6,10.3m-23.2,-10.3l11.6,10.3 11.6,-10.3m-23.2,0l11.6,-10.3 11.6,10.3m-23.2,-10.3l11.6,10.3 11.6,-10.3m-23.2,0l11.6,-10.3 11.6,10.3m-23.2,-10.3l11.6,10.3 11.6,-10.3m-23.2,0",
"M-11.6,0l11.6,-10.3 11.6,10.3m-23.2,-10.3l11.6,10.3 11.6,-10.3m-23.2,0l11.6,-10.3 11.6,10.3m-23.2,-10.3l11.6,10.3 11.6,-10.3m-23.2,0l11.6,-10.3 11.6,10.3m-23.2,-10.3l11.6,10.3 11.6,-10.3m-23.2,0l11.6,-10.3 11.6,10.3m-23.2,-10.3l11.6,10.3 11.6,-10.3m-23.2,0l11.6,-10.3 11.6,10.3m-23.2,-10.3l11.6,10.3 11.6,-10.3m-23.2,0l11.6,-10.3 11.6,10.3m-23.2,-10.3l11.6,10.3 11.6,-10.3m-23.2,0l11.6,-10.3 11.6,10.3m-23.2,-10.3l11.6,10.3 11.6,-10.3m-23.2,0l11.6,-10.3 11.6,10.3m-23.2,-10.3l11.6,10.3 11.6,-10.3m-23.2,0l11.6,-10.3 11.6,10.3m-23.2,-10.3l11.6,10.3 11.6,-10.3m-23.2,0l11.6,-10.3 11.6,10.3m-23.2,-10.3l11.6,10.3 11.6,-10.3m-23.2,0l11.6,-10.3 11.6,10.3m-23.2,-10.3l11.6,10.3 11.6,-10.3m-23.2,0l11.6,-10.3 11.6,10.3m-23.2,-10.3l11.6,10.3 11.6,-10.3m-23.2,0l11.6,-10.3 11.6,10.3m-23.2,-10.3l11.6,10.3 11.6,-10.3m-23.2,0l11.6,-10.3 11.6,10.3m-23.2,-10.3l11.6,10.3 11.6,-10.3m-23.2,0l11.6,-10.3 11.6,10.3m-23.2,-10.3l11.6,10.3 11.6,-10.3m-23.2,0l11.6,-10.3 11.6,10.3m-23.2,-10.3l11.6,10.3 11.6,-10.3m-23.2,0l11.6,-10.3 11.6,10.3m-23.2,-10.3l11.6,10.3 11.6,-10.3m-23.2,0l11.6,-10.3 11.6,10.3m-23.2,-10.3l11.6,10.3 11.6,-10.3m-23.2,0"
]}}}},
{"transform":[{"filter":"datum.k=='c'"}],"mark":{"type":"line","interpolate":"monotone","color":"black","strokeWidth":2.3,"clip":true},
"encoding":{"x":{"field":"x","type":"quantitative","title":null},"y":{"field":"y","type":"quantitative","title":null}}},
{"transform":[{"filter":"datum.k=='b'"}],"mark":{"type":"point","shape":"diamond","filled":true,"color":"black","size":144,"opacity":1,"clip":true},
"encoding":{"x":{"field":"x","type":"quantitative","title":null},"y":{"field":"y","type":"quantitative","title":null}}},
{"transform":[{"filter":"datum.k=='b'"}],"mark":{"type":"text","font":"Open Sans","fontSize":11,"fill":"#555555","dy":-9,"baseline":"alphabetic"},
"encoding":{"x":{"field":"x","type":"quantitative","title":null},"y":{"field":"y","type":"quantitative","title":null},"text":{"field":"y","type":"quantitative"}}},
{"transform":[{"filter":"datum.k=='a'"}],"mark":{"type":"text","font":"Liberation Serif","fontSize":16,"fontWeight":"bold","color":"black"},
"encoding":{"x":{"field":"x","type":"quantitative","title":null},"y":{"field":"y","type":"quantitative","title":null},"text":{"field":"t"}}}
]}
}
],
"resolve": {"scale": {"x": "independent", "y": "independent", "shape": "independent"}},
"config": {
"view": {"stroke": "#7f7f7f", "strokeWidth": 1},
"axis": {"domain": false, "grid": true, "gridColor": "#e6e6e6", "tickColor": "#8a8a8a", "labelFont": "Liberation Serif", "labelColor": "#222222", "labelFlush": false, "labelOverlap": false}
}
}
